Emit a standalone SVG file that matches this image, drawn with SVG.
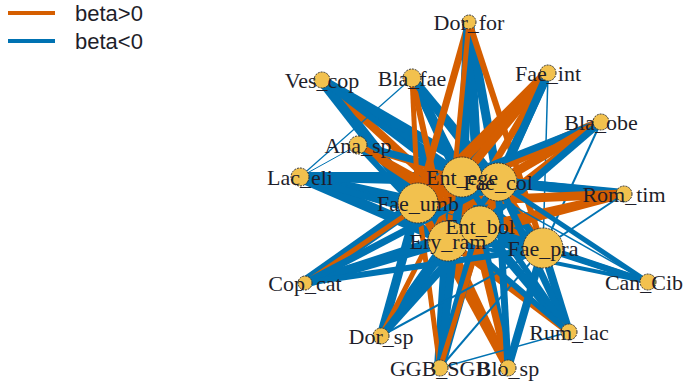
<svg xmlns="http://www.w3.org/2000/svg" width="685" height="386" viewBox="0 0 685 386">
<style>
.o{stroke:#D55E00;stroke-linecap:butt}
.b{stroke:#0072B2;stroke-linecap:butt}
.n{fill:#F2C14E;stroke:#333;stroke-width:1;stroke-dasharray:2 1}
.l{font-family:"Liberation Serif","Times New Roman",serif;font-size:22px;fill:#1e1e2a;text-anchor:middle}
.lg{font-family:"Liberation Sans",Arial,sans-serif;font-size:22px;fill:#1e1e2a}
</style>
<rect width="685" height="386" fill="#fff"/>
<g id="legend">
<line x1="8" y1="13" x2="55" y2="13" stroke="#D55E00" stroke-width="4"/>
<line x1="8" y1="41" x2="55" y2="41" stroke="#0072B2" stroke-width="4"/>
<text class="lg" x="75" y="21">beta&gt;0</text>
<text class="lg" x="75" y="49">beta&lt;0</text>
</g>
<g id="edges">
<line class="b" x1="462" y1="177" x2="498" y2="182" stroke-width="7"/>
<line class="o" x1="462" y1="177" x2="418" y2="203" stroke-width="6"/>
<line class="b" x1="462" y1="177" x2="480" y2="226" stroke-width="7"/>
<line class="o" x1="498" y1="182" x2="543" y2="248" stroke-width="7"/>
<line class="b" x1="418" y1="203" x2="448" y2="241" stroke-width="7"/>
<line class="o" x1="480" y1="226" x2="543" y2="248" stroke-width="7"/>
<line class="b" x1="448" y1="241" x2="543" y2="248" stroke-width="6"/>
<line class="b" x1="418" y1="203" x2="543" y2="248" stroke-width="6"/>
<line class="b" x1="300" y1="177" x2="418" y2="203" stroke-width="12"/>
<line class="b" x1="300" y1="177" x2="462" y2="177" stroke-width="10"/>
<line class="b" x1="300" y1="177" x2="498" y2="182" stroke-width="9"/>
<line class="b" x1="300" y1="177" x2="448" y2="241" stroke-width="11"/>
<line class="b" x1="300" y1="177" x2="480" y2="226" stroke-width="9"/>
<line class="b" x1="300" y1="177" x2="543" y2="248" stroke-width="7"/>
<line class="b" x1="322" y1="80" x2="418" y2="203" stroke-width="11"/>
<line class="b" x1="322" y1="80" x2="462" y2="177" stroke-width="10"/>
<line class="b" x1="322" y1="80" x2="498" y2="182" stroke-width="9"/>
<line class="o" x1="322" y1="80" x2="480" y2="226" stroke-width="8"/>
<line class="b" x1="322" y1="80" x2="448" y2="241" stroke-width="8"/>
<line class="b" x1="322" y1="80" x2="543" y2="248" stroke-width="6"/>
<line class="o" x1="358" y1="145" x2="462" y2="177" stroke-width="7"/>
<line class="b" x1="358" y1="145" x2="498" y2="182" stroke-width="7"/>
<line class="o" x1="358" y1="145" x2="480" y2="226" stroke-width="7"/>
<line class="b" x1="358" y1="145" x2="448" y2="241" stroke-width="6"/>
<line class="o" x1="358" y1="145" x2="543" y2="248" stroke-width="6"/>
<line class="b" x1="412" y1="78" x2="462" y2="177" stroke-width="9"/>
<line class="b" x1="412" y1="78" x2="498" y2="182" stroke-width="9"/>
<line class="b" x1="412" y1="78" x2="480" y2="226" stroke-width="7"/>
<line class="o" x1="412" y1="78" x2="448" y2="241" stroke-width="6"/>
<line class="o" x1="412" y1="78" x2="418" y2="203" stroke-width="5"/>
<line class="b" x1="412" y1="78" x2="543" y2="248" stroke-width="7"/>
<line class="o" x1="469" y1="22" x2="418" y2="203" stroke-width="7"/>
<line class="b" x1="469" y1="22" x2="462" y2="177" stroke-width="11"/>
<line class="b" x1="469" y1="22" x2="480" y2="226" stroke-width="10"/>
<line class="b" x1="469" y1="22" x2="498" y2="182" stroke-width="9"/>
<line class="o" x1="469" y1="22" x2="448" y2="241" stroke-width="5"/>
<line class="o" x1="469" y1="22" x2="543" y2="248" stroke-width="6"/>
<line class="o" x1="548" y1="73" x2="418" y2="203" stroke-width="11"/>
<line class="o" x1="548" y1="73" x2="462" y2="177" stroke-width="9"/>
<line class="b" x1="548" y1="73" x2="498" y2="182" stroke-width="9"/>
<line class="o" x1="548" y1="73" x2="448" y2="241" stroke-width="7"/>
<line class="b" x1="548" y1="73" x2="480" y2="226" stroke-width="8"/>
<line class="b" x1="548" y1="73" x2="543" y2="248" stroke-width="1.5"/>
<line class="o" x1="601" y1="122" x2="418" y2="203" stroke-width="10"/>
<line class="b" x1="601" y1="122" x2="462" y2="177" stroke-width="7"/>
<line class="o" x1="601" y1="122" x2="498" y2="182" stroke-width="9"/>
<line class="o" x1="601" y1="122" x2="448" y2="241" stroke-width="7"/>
<line class="b" x1="601" y1="122" x2="480" y2="226" stroke-width="7"/>
<line class="b" x1="601" y1="122" x2="543" y2="248" stroke-width="2"/>
<line class="b" x1="624" y1="194" x2="498" y2="182" stroke-width="10"/>
<line class="b" x1="624" y1="194" x2="462" y2="177" stroke-width="8"/>
<line class="o" x1="624" y1="194" x2="418" y2="203" stroke-width="9"/>
<line class="o" x1="624" y1="194" x2="448" y2="241" stroke-width="8"/>
<line class="o" x1="624" y1="194" x2="480" y2="226" stroke-width="7"/>
<line class="b" x1="624" y1="194" x2="543" y2="248" stroke-width="2"/>
<line class="b" x1="648" y1="282" x2="543" y2="248" stroke-width="6"/>
<line class="b" x1="648" y1="282" x2="480" y2="226" stroke-width="6"/>
<line class="b" x1="648" y1="282" x2="498" y2="182" stroke-width="5"/>
<line class="b" x1="648" y1="282" x2="448" y2="241" stroke-width="4"/>
<line class="b" x1="648" y1="282" x2="462" y2="177" stroke-width="1.5"/>
<line class="b" x1="648" y1="282" x2="418" y2="203" stroke-width="1"/>
<line class="b" x1="569" y1="332" x2="543" y2="248" stroke-width="8"/>
<line class="b" x1="569" y1="332" x2="480" y2="226" stroke-width="9"/>
<line class="b" x1="569" y1="332" x2="498" y2="182" stroke-width="7"/>
<line class="b" x1="569" y1="332" x2="462" y2="177" stroke-width="6"/>
<line class="o" x1="569" y1="332" x2="448" y2="241" stroke-width="7"/>
<line class="b" x1="569" y1="332" x2="418" y2="203" stroke-width="6"/>
<line class="b" x1="508" y1="368" x2="480" y2="226" stroke-width="9"/>
<line class="b" x1="508" y1="368" x2="543" y2="248" stroke-width="8"/>
<line class="o" x1="508" y1="368" x2="448" y2="241" stroke-width="8"/>
<line class="o" x1="508" y1="368" x2="418" y2="203" stroke-width="8"/>
<line class="o" x1="508" y1="368" x2="462" y2="177" stroke-width="7"/>
<line class="b" x1="508" y1="368" x2="498" y2="182" stroke-width="7"/>
<line class="b" x1="440" y1="368" x2="448" y2="241" stroke-width="12"/>
<line class="b" x1="440" y1="368" x2="480" y2="226" stroke-width="10"/>
<line class="o" x1="440" y1="368" x2="418" y2="203" stroke-width="5"/>
<line class="b" x1="440" y1="368" x2="462" y2="177" stroke-width="8"/>
<line class="o" x1="440" y1="368" x2="498" y2="182" stroke-width="5"/>
<line class="b" x1="440" y1="368" x2="543" y2="248" stroke-width="2"/>
<line class="b" x1="381" y1="336" x2="448" y2="241" stroke-width="10"/>
<line class="b" x1="381" y1="336" x2="418" y2="203" stroke-width="9"/>
<line class="b" x1="381" y1="336" x2="480" y2="226" stroke-width="8"/>
<line class="o" x1="381" y1="336" x2="462" y2="177" stroke-width="5"/>
<line class="b" x1="381" y1="336" x2="498" y2="182" stroke-width="6"/>
<line class="b" x1="381" y1="336" x2="543" y2="248" stroke-width="2"/>
<line class="b" x1="305" y1="283" x2="418" y2="203" stroke-width="12"/>
<line class="b" x1="305" y1="283" x2="448" y2="241" stroke-width="10"/>
<line class="b" x1="305" y1="283" x2="480" y2="226" stroke-width="8"/>
<line class="o" x1="305" y1="283" x2="462" y2="177" stroke-width="5"/>
<line class="b" x1="305" y1="283" x2="498" y2="182" stroke-width="7"/>
<line class="b" x1="305" y1="283" x2="543" y2="248" stroke-width="6"/>
<line class="b" x1="412" y1="78" x2="300" y2="177" stroke-width="1.2"/>
<line class="b" x1="358" y1="145" x2="300" y2="177" stroke-width="1"/>
<line class="b" x1="440" y1="368" x2="569" y2="332" stroke-width="1.5"/>
</g>
<g id="node-Dor_for"><circle class="n" cx="469" cy="22" r="7"/></g>
<g id="node-Ves_cop"><circle class="n" cx="322" cy="80" r="8"/></g>
<g id="node-Bla_fae"><circle class="n" cx="412" cy="78" r="9"/></g>
<g id="node-Fae_int"><circle class="n" cx="548" cy="73" r="8"/></g>
<g id="node-Bla_obe"><circle class="n" cx="601" cy="122" r="8"/></g>
<g id="node-Ana_sp"><circle class="n" cx="358" cy="145" r="9"/></g>
<g id="node-Lac_eli"><circle class="n" cx="300" cy="177" r="9"/></g>
<g id="node-Rom_tim"><circle class="n" cx="624" cy="194" r="8"/></g>
<g id="node-Can_Cib"><circle class="n" cx="648" cy="282" r="8"/></g>
<g id="node-Rum_lac"><circle class="n" cx="569" cy="332" r="8"/></g>
<g id="node-Blo_sp"><circle class="n" cx="508" cy="368" r="8"/></g>
<g id="node-GGB_SGB"><circle class="n" cx="440" cy="368" r="8"/></g>
<g id="node-Dor_sp"><circle class="n" cx="381" cy="336" r="8"/></g>
<g id="node-Cop_cat"><circle class="n" cx="305" cy="283" r="7"/></g>
<g id="node-Fae_pra"><circle class="n" cx="543" cy="248" r="20"/></g>
<g id="node-Ery_ram"><circle class="n" cx="448" cy="241" r="20"/></g>
<g id="node-Ent_bol"><circle class="n" cx="480" cy="226" r="20"/></g>
<g id="node-Fae_umb"><circle class="n" cx="418" cy="203" r="20"/></g>
<g id="node-Fae_col"><circle class="n" cx="498" cy="182" r="19"/></g>
<g id="node-Ent_ege"><circle class="n" cx="462" cy="177" r="20"/></g>
<g id="labels">
<text class="l" x="469" y="30">Dor_for</text>
<text class="l" x="322" y="88">Ves_cop</text>
<text class="l" x="412" y="86">Bla_fae</text>
<text class="l" x="548" y="81">Fae_int</text>
<text class="l" x="601" y="130">Bla_obe</text>
<text class="l" x="358" y="153">Ana_sp</text>
<text class="l" x="300" y="185">Lac_eli</text>
<text class="l" x="624" y="202">Rom_tim</text>
<text class="l" x="644" y="290">Can_Cib</text>
<text class="l" x="569" y="340">Rum_lac</text>
<text class="l" x="508" y="376">Blo_sp</text>
<text class="l" x="440" y="376">GGB_SGB</text>
<text class="l" x="381" y="344">Dor_sp</text>
<text class="l" x="305" y="291">Cop_cat</text>
<text class="l" x="543" y="256">Fae_pra</text>
<text class="l" x="448" y="249">Ery_ram</text>
<text class="l" x="480" y="234">Ent_bol</text>
<text class="l" x="418" y="211">Fae_umb</text>
<text class="l" x="498" y="190">Fae_col</text>
<text class="l" x="462" y="185">Ent_ege</text>
</g>
</svg>
